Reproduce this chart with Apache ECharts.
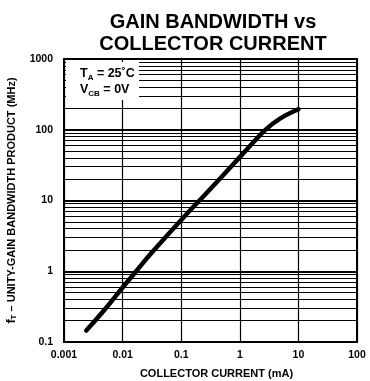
<!DOCTYPE html>
<html><head><meta charset="utf-8">
<script src="https://cdn.jsdelivr.net/npm/echarts@6/dist/echarts.min.js"></script>
<style>html,body{margin:0;padding:0;background:#fff}#c{width:370px;height:381px}</style>
</head><body><div id="c"></div>
<script>
const currentMA = [0.0024, 0.005, 0.01, 0.017, 0.03, 0.1, 0.3, 1, 2.7, 4.85, 10];
const gainBwMHz = [0.145, 0.29, 0.59, 1.0, 1.75, 5.3, 14, 41, 99, 144, 195];
const xTicks = [0.001, 0.01, 0.1, 1, 10, 100];
const yTicks = [0.1, 1, 10, 100, 1000];
const minorMult = [2, 3, 4, 5, 6, 7, 8, 9];

const minorY = [];
for (let i = 0; i < yTicks.length - 1; i++) for (const m of minorMult) minorY.push(yTicks[i] * m);

const F = 'Liberation Sans, Arial, sans-serif';
const chart = echarts.init(document.getElementById('c'));
chart.setOption({
  animation: false,
  backgroundColor: '#fff',
  title: {
    text: 'GAIN BANDWIDTH vs\nCOLLECTOR CURRENT',
    left: 208, top: 6, textAlign: 'center',
    textStyle: {fontFamily: F, fontWeight: 'bold', fontSize: 20, lineHeight: 22, color: '#000'}
  },
  grid: {left: 64, right: 13, top: 59, bottom: 39, containLabel: false, outerBoundsMode: 'none',
    show: true, borderColor: '#000', borderWidth: 2, backgroundColor: 'transparent'},
  xAxis: {
    type: 'log', logBase: 10, min: 0.001, max: 100,
    name: 'COLLECTOR CURRENT (mA)', nameLocation: 'middle', nameGap: 26,
    nameTextStyle: {fontFamily: F, fontWeight: 'bold', fontSize: 11, color: '#000', padding: [0, 0, 0, 12]},
    axisLine: {lineStyle: {color: '#000', width: 2}},
    axisTick: {show: false},
    axisLabel: {fontFamily: F, fontWeight: 'bold', fontSize: 10.5, color: '#000', margin: 8,
      formatter: v => String(xTicks.find(t => Math.abs(Math.log10(t) - Math.log10(v)) < 1e-6) ?? v)},
    splitLine: {show: true, lineStyle: {color: '#000', width: 1.2}}
  },
  yAxis: {
    type: 'log', logBase: 10, min: 0.1, max: 1000,
    name: '{i|f}{s|T}{n| – UNITY-GAIN BANDWIDTH PRODUCT (MHz)}', nameLocation: 'middle', nameGap: 46, nameRotate: 90,
    nameTextStyle: {fontFamily: F, fontWeight: 'bold', fontSize: 11, color: '#000',
      rich: {i: {fontFamily: F, fontWeight: 'bold', fontSize: 12.5, color: '#000'},
             s: {fontFamily: F, fontWeight: 'bold', fontSize: 8, color: '#000', verticalAlign: 'bottom', padding: [5, 0, 0, 0]},
             n: {fontFamily: F, fontWeight: 'bold', fontSize: 11, color: '#000'}}},
    axisLine: {lineStyle: {color: '#000', width: 2}},
    axisTick: {show: false},
    axisLabel: {fontFamily: F, fontWeight: 'bold', fontSize: 10.5, color: '#000', margin: 11,
      formatter: v => String(yTicks.find(t => Math.abs(Math.log10(t) - Math.log10(v)) < 1e-6) ?? v)},
    splitLine: {show: true, lineStyle: {color: '#000', width: 2}}
  },
  series: [
    {
      type: 'line', data: [], silent: true,
      markLine: {silent: true, symbol: 'none', label: {show: false},
        lineStyle: {color: '#000', width: 1, type: 'solid'},
        data: minorY.map(v => ({yAxis: v}))}
    },
    {
      type: 'line', smooth: 0.4, showSymbol: false,
      lineStyle: {color: '#000', width: 4.5, cap: 'round'},
      data: currentMA.map((x, i) => [x, gainBwMHz[i]]), z: 5
    }
  ],
  graphic: [
    {type: 'rect', shape: {x: 66, y: 62, width: 73, height: 38}, style: {fill: '#fff'}, z: 10},
    {type: 'text', x: 80, y: 66, z: 11, style: {
      text: '{a|T}{b|A}{a| = 25˚C}\n{a|V}{b|CB}{a| = 0V}',
      rich: {a: {fontFamily: F, fontWeight: 'bold', fontSize: 12.5, color: '#000', lineHeight: 16},
             b: {fontFamily: F, fontWeight: 'bold', fontSize: 8, color: '#000', lineHeight: 16, verticalAlign: 'bottom', padding: [5, 0, 0, 0]}}}}
  ]
});
</script></body></html>
